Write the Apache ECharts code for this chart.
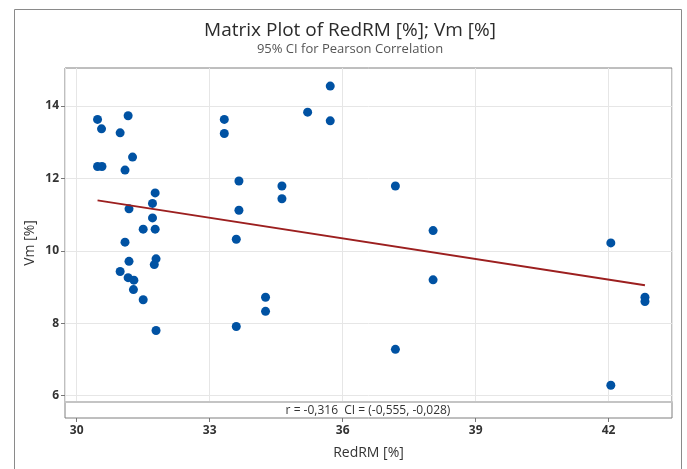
<!DOCTYPE html>
<html>
<head>
<meta charset="utf-8">
<script src="https://cdn.jsdelivr.net/npm/echarts@6/dist/echarts.min.js"></script>
<style>
  html, body { margin: 0; padding: 0; background: #fff; }
  #chart { width: 687px; height: 469px; }
</style>
</head>
<body>
<div id="chart"></div>
<script>
// RedRM [%] against Vm [%], one point per observation
const redRM = [
  30.47, 30.56, 31.16, 30.98, 30.47, 30.57, 31.26, 31.09, 31.77, 31.71,
  31.18, 31.71, 31.50, 31.77, 31.09, 31.18, 31.79, 31.75, 30.98, 31.16,
  31.29, 31.28, 31.50, 31.79,
  33.33, 33.33, 33.66, 33.66, 33.60, 33.60,
  35.72, 35.21, 35.72, 34.63, 34.63, 34.26, 34.26,
  37.19, 38.04, 38.04, 37.19,
  42.05, 42.82, 42.82, 42.05
];
const vm = [
  13.63, 13.37, 13.73, 13.26, 12.33, 12.33, 12.59, 12.23, 11.60, 11.31,
  11.16, 10.91, 10.60, 10.60, 10.24, 9.71, 9.78, 9.62, 9.43, 9.26,
  9.19, 8.93, 8.65, 7.80,
  13.63, 13.24, 11.93, 11.12, 10.32, 7.91,
  14.55, 13.83, 13.59, 11.79, 11.44, 8.72, 8.33,
  11.79, 10.56, 9.20, 7.28,
  10.22, 8.72, 8.60, 6.29
];
const xTicks = [30, 33, 36, 39, 42];
const yTicks = [6, 8, 10, 12, 14];
const xRange = [29.736, 43.43];
const yRange = [5.826, 15.05];

const titleText = 'Matrix Plot of RedRM [%]; Vm [%]';
const subtitleText = '95% CI for Pearson Correlation';
const statText = 'r = -0,316  CI = (-0,555, -0,028)';

// least-squares line over the observed RedRM span
function fitLine(xs, ys) {
  const n = xs.length;
  const mx = xs.reduce((a, b) => a + b, 0) / n;
  const my = ys.reduce((a, b) => a + b, 0) / n;
  let sxy = 0, sxx = 0;
  for (let i = 0; i < n; i++) {
    sxy += (xs[i] - mx) * (ys[i] - my);
    sxx += (xs[i] - mx) * (xs[i] - mx);
  }
  const b = sxy / sxx;
  const a = my - b * mx;
  const x0 = Math.min(...xs), x1 = Math.max(...xs);
  return [[x0, a + b * x0], [x1, a + b * x1]];
}

const points = redRM.map((x, i) => [x, vm[i]]);
const FONT = '"Open Sans", "Noto Sans", sans-serif';

const chart = echarts.init(document.getElementById('chart'), null, { renderer: 'canvas' });
chart.setOption({
  backgroundColor: '#ffffff',
  animation: false,
  textStyle: { fontFamily: FONT },
  grid: [
    { left: 65, top: 68, width: 607, height: 334, show: false },
    { left: 65, top: 68, width: 607, height: 350, show: true,
      backgroundColor: 'transparent', borderColor: '#7f7f7f', borderWidth: 1 }
  ],
  xAxis: [
    {
      gridIndex: 0, type: 'value', min: xRange[0], max: xRange[1],
      axisLabel: { show: false }, axisTick: { show: false },
      axisLine: { show: true, lineStyle: { color: '#c4c4c4', width: 2 } },
      splitLine: { show: true, lineStyle: { color: '#e6e6e6', width: 1 } }
    },
    {
      gridIndex: 1, type: 'value', min: xRange[0], max: xRange[1],
      axisLine: { show: false },
      splitLine: { show: false },
      axisTick: { show: true, customValues: xTicks, length: 4, lineStyle: { color: '#777' } },
      axisLabel: { customValues: xTicks, color: '#333', fontSize: 12, fontWeight: 'bold',
        margin: 7, fontFamily: FONT },
      name: 'RedRM [%]', nameLocation: 'middle', nameGap: 28,
      nameTextStyle: { color: '#333', fontSize: 14, fontFamily: FONT }
    }
  ],
  yAxis: [
    {
      gridIndex: 0, type: 'value', min: yRange[0], max: yRange[1],
      axisLine: { show: false },
      axisTick: { show: true, customValues: yTicks, length: 4, lineStyle: { color: '#777' } },
      axisLabel: { customValues: yTicks, color: '#333', fontSize: 12, fontWeight: 'bold',
        margin: 6, fontFamily: FONT },
      splitLine: { show: true, lineStyle: { color: '#e6e6e6', width: 1 } }
    },
    {
      gridIndex: 1, type: 'value', min: 0, max: 1,
      axisLine: { show: false }, axisTick: { show: false },
      axisLabel: { show: false }, splitLine: { show: false },
      name: 'Vm [%]', nameLocation: 'middle', nameGap: 28,
      nameTextStyle: { color: '#333', fontSize: 14, fontFamily: FONT }
    }
  ],
  graphic: [
    { type: 'rect', silent: true, z: -1,
      shape: { x: 14.5, y: 9.5, width: 667, height: 480 },
      style: { fill: 'none', stroke: '#8a8a8a', lineWidth: 1 } },
    { type: 'text', x: 350, y: 31, silent: true,
      style: { text: titleText, fill: '#2b2b2b', font: '19px ' + FONT,
        textAlign: 'center', textVerticalAlign: 'middle' } },
    { type: 'text', x: 350, y: 49, silent: true,
      style: { text: subtitleText, fill: '#555', font: '13px ' + FONT,
        textAlign: 'center', textVerticalAlign: 'middle' } },
    { type: 'text', x: 368, y: 411, silent: true,
      style: { text: statText, fill: '#333', font: '12px ' + FONT,
        textAlign: 'center', textVerticalAlign: 'middle' } }
  ],
  series: [
    {
      type: 'scatter', xAxisIndex: 0, yAxisIndex: 0,
      data: points, symbol: 'circle', symbolSize: 9,
      itemStyle: { color: '#0052a3', opacity: 1 }, z: 3
    },
    {
      type: 'line', xAxisIndex: 0, yAxisIndex: 0,
      data: fitLine(redRM, vm), symbol: 'none',
      lineStyle: { color: '#9c1f1f', width: 2 }, z: 4
    }
  ]
});
</script>
</body>
</html>
